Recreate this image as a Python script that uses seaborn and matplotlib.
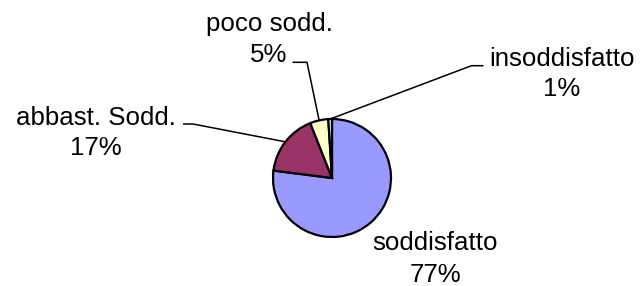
import numpy as np
import matplotlib
matplotlib.use("Agg")
import matplotlib.pyplot as plt
import seaborn as sns

# ---- data ----
categories = ["soddisfatto", "abbast. Sodd.", "poco sodd.", "insoddisfatto"]
values = [77, 17, 5, 1]
colors = ["#9999FF", "#993366", "#FFFFCC", "#CCFFFF"]

# ---- style ----
sns.set_theme(style="white")
plt.rcParams["font.family"] = ["Liberation Sans", "DejaVu Sans"]

W, H = 643, 286
fig = plt.figure(figsize=(W / 100, H / 100), dpi=100)
ax = fig.add_axes([0, 0, 1, 1])
ax.set_xlim(0, W)
ax.set_ylim(0, H)
ax.set_aspect("equal")
ax.axis("off")

cx, cy_px, r = 332, 178, 59
cy = H - cy_px

wedges, _ = ax.pie(values, colors=colors, startangle=90, counterclock=False,
                   center=(cx, cy), radius=r,
                   wedgeprops=dict(edgecolor="black", linewidth=1.6))
ax.set_xlim(0, W)
ax.set_ylim(0, H)

# label layout (pixel coords, top-origin): name center x, name baseline, pct baseline, leader
layout = {
    "soddisfatto": dict(x=435, y1=250, y2=281.5, leader=None),
    "abbast. Sodd.": dict(x=96, y1=125, y2=155, leader=[(183, 124), (193, 124)]),
    "poco sodd.": dict(x=269, y1=31.5, y2=62.5, leader=[(292.5, 62.3), (307, 62.3)]),
    "insoddisfatto": dict(x=562, y1=66.5, y2=96.5, leader=[(483.5, 65.7), (471.5, 65.7)]),
}

total = sum(values)
cum = 0
fs = 18.6
for cat, v in zip(categories, values):
    cum += v
    mid = (cum - v / 2) / total
    theta = np.deg2rad(90 - 360 * mid)
    px, py = cx + r * np.cos(theta), cy + r * np.sin(theta)
    L = layout[cat]
    ax.text(L["x"], H - L["y1"], cat, ha="center", va="baseline", fontsize=fs, color="black")
    ax.text(L["x"], H - L["y2"], f"{round(100 * v / total)}%", ha="center", va="baseline",
            fontsize=fs, color="black")
    if L["leader"] is not None:
        xs = [p[0] for p in L["leader"]] + [px]
        ys = [H - p[1] for p in L["leader"]] + [py]
        ax.plot(xs, ys, color="black", linewidth=1.1, solid_capstyle="butt")

fig.savefig("out.png", dpi=100, facecolor="white")
